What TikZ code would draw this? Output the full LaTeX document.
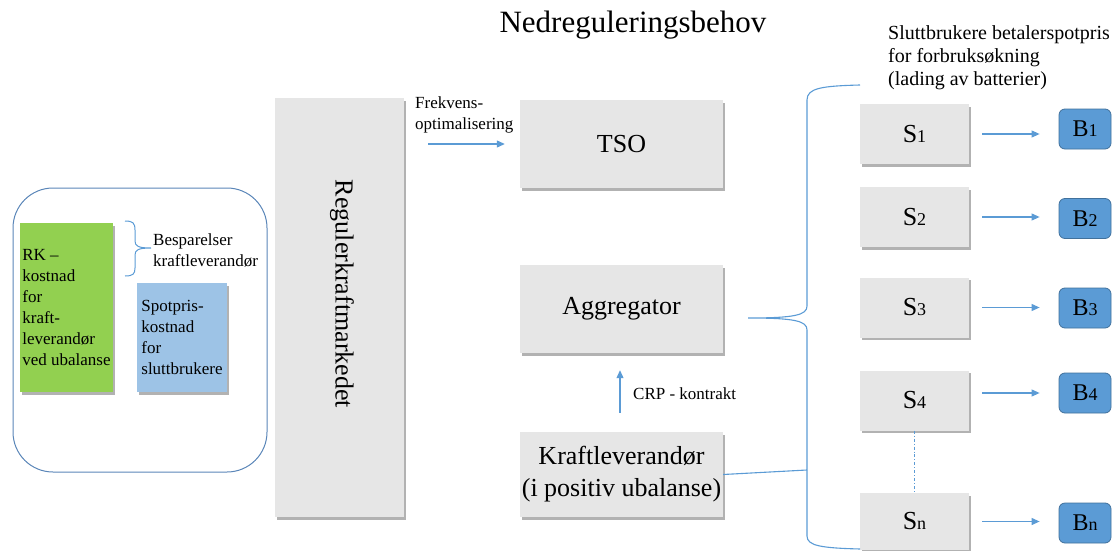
\documentclass[tikz,border=0pt]{standalone}
\usepackage{fontspec}
\setmainfont{Liberation Serif}
\usetikzlibrary{arrows.meta,shadows}

\definecolor{boxgray}{HTML}{E6E6E6}
\definecolor{linkblue}{HTML}{5B9BD5}
\definecolor{frameblue}{HTML}{5A86B8}
\definecolor{rkgreen}{HTML}{92D050}
\definecolor{spotblue}{HTML}{9DC3E6}
\definecolor{batfill}{HTML}{5B9BD5}
\definecolor{batedge}{HTML}{41719C}

\newcommand\txtS{\fontsize{17}{21}\selectfont}
\newcommand\txtM{\fontsize{20}{23}\selectfont}
\newcommand\txtL{\fontsize{26}{32}\selectfont}
\newcommand\subidx[1]{{\fontsize{18}{18}\selectfont #1}}

\begin{document}
\begin{tikzpicture}[x=1pt,y=-1pt,
  shade box/.style={drop shadow={shadow xshift=1.5pt,shadow yshift=-2.5pt,fill=black!55,opacity=.55}},
  gbox/.style={fill=boxgray, inner sep=0pt, font=\txtL, shade box},
  sbox/.style={gbox, minimum width=109pt, minimum height=60pt},
  batbox/.style={fill=batfill, draw=batedge, line width=0.8pt, rounded corners=6pt,
    minimum width=52pt, minimum height=40pt, inner sep=0pt, font=\fontsize{24}{28}\selectfont},
  costbox/.style={shade box, inner sep=0pt, align=left, font=\txtS},
  link/.style={draw=linkblue, line width=1.1pt},
  arr/.style={link, -{Triangle[length=8pt,width=7pt]}},
  sarr/.style={arr, shorten <=13pt, shorten >=19pt},
  note/.style={inner sep=0pt, align=left, anchor=west}
]
\useasboundingbox (0,0) rectangle (1114,551);

% title
\node[font=\fontsize{31}{36}\selectfont] (title) at (633,25) {Nedreguleringsbehov};

% cost group on the left
\node[draw=frameblue, line width=1pt, rounded corners=40pt,
      minimum width=254pt, minimum height=284pt] (grp) at (140,330) {};
\node[costbox, fill=rkgreen, minimum width=93pt, minimum height=169pt] (rk) at (66.5,307.5)
  {RK –\\kostnad\\for\\kraft-\\leverandør\\ved ubalanse};
\node[costbox, fill=spotblue, minimum width=90pt, minimum height=109pt] (spot) at (182,337.5)
  {Spotpris-\\kostnad\\for\\sluttbrukere};
\draw[link, line width=1pt] (125,221) .. controls (133,221) and (135,223) .. (135,230)
  -- (135,241) .. controls (135,246) and (138,248) .. (151,248)
  .. controls (138,248) and (135,250) .. (135,255)
  -- (135,268) .. controls (135,274) and (133,276) .. (125,276);
\node[note, font=\txtS] (bsp) at (153,250) {Besparelser\\kraftleverandør};

% balancing market
\node[gbox, minimum width=129pt, minimum height=419pt] (rkm) at (339.5,307.5) {};
\node[rotate=-90, font=\txtL] (rkmtxt) at (342,294) {Regulerkraftmarkedet};

% central actors
\node[gbox, minimum width=203pt, minimum height=88pt] (tso) at (621.5,144) {TSO};
\node[gbox, minimum width=203pt, minimum height=88pt] (agg) at (621.5,309) {Aggregator};
\node[gbox, minimum width=203pt, minimum height=85pt, align=center] (kl) at (621.5,474.5)
  {Kraftleverandør\\(i positiv ubalanse)};

\node[note, font=\txtS] (frq) at (415,115) {Frekvens-\\optimalisering};
\coordinate (frqstart) at (428,144);
\draw[arr, shorten >=15pt] (frqstart) -- (tso.west);

\draw[arr, shorten <=19pt, shorten >=17pt] ([xshift=-1.5pt]kl.north) -- ([xshift=-1.5pt]agg.south);
\node[note, font=\txtS] (crp) at (633,394) {CRP - kontrakt};

% end users and their batteries
\node[note, font=\txtM] (slb) at (888,58)
  {Sluttbrukere betalerspotpris\\for forbruksøkning\\(lading av batterier)};

\node[sbox] (s1) at (914.5,134)   {S\subidx{1}};
\node[sbox] (s2) at (914.5,217)   {S\subidx{2}};
\node[sbox] (s3) at (914.5,307.5) {S\subidx{3}};
\node[sbox] (s4) at (914.5,400.5) {S\subidx{4}};
\node[sbox, minimum height=57pt] (sn) at (914.5,521.5) {S\subidx{n}};

\node[batbox] (b1) at (1085,129)   {B\subidx{1}};
\node[batbox] (b2) at (1085,218.5) {B\subidx{2}};
\node[batbox] (b3) at (1085,308)   {B\subidx{3}};
\node[batbox] (b4) at (1085,393)   {B\subidx{4}};
\node[batbox] (bn) at (1085,523)   {B\subidx{n}};

\draw[sarr] (s1.east) -- (s1.east -| b1.west);
\draw[sarr] (s2.east) -- (s2.east -| b2.west);
\draw[sarr] (s3.east) -- (s3.east -| b3.west);
\draw[sarr] ([yshift=7.5pt]s4.east) -- ([yshift=7.5pt]s4.east -| b4.west);
\draw[sarr] (sn.east) -- (sn.east -| bn.west);

\draw[link, line width=0.9pt, dash dot] (s4.south) -- (sn.north);

% brace gathering the end users
\draw[link] (860,85) .. controls (822,86) and (807,88) .. (807,100)
  -- (807,306) .. controls (807,315) and (795,318) .. (748,318)
  .. controls (795,318) and (807,321) .. (807,330)
  -- (807,536) .. controls (807,546) and (822,548) .. (860,549);
\coordinate (kljoin) at (807,470);
\draw[link] (kl.east) -- (kljoin);

\end{tikzpicture}
\end{document}
